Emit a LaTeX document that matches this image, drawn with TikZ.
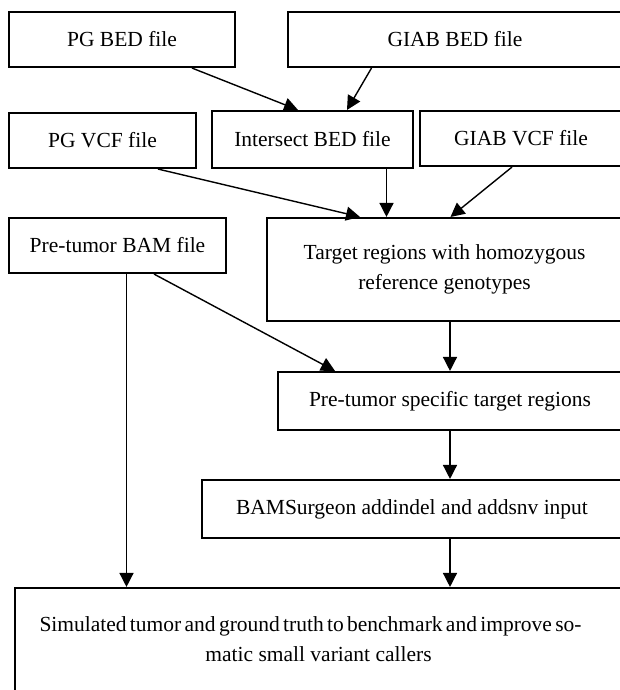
\documentclass[tikz,border=0pt]{standalone}
\usepackage{fontspec}
\setmainfont{Liberation Serif}
\usepackage{tikz}
\usetikzlibrary{arrows.meta}
\usetikzlibrary{positioning, shapes}

\begin{document}
\begin{tikzpicture}[x=1pt, y=-1pt,
    box/.style={rectangle, draw, line width=2.1pt, minimum height=55pt,
        inner sep=0pt, align=center, font=\fontsize{21.5}{30}\selectfont},
    flow/.style={-{Triangle[length=14pt,width=14pt]}, line width=1.4pt}]
  \useasboundingbox (0,0) rectangle (619,690);
  \coordinate (pgb) at (122,39.5);
  \coordinate (gib) at (455,39.5);
  \coordinate (pgv) at (102.5,140.5);
  \coordinate (isb) at (312.5,139.5);
  \coordinate (giv) at (521,138.5);
  \coordinate (bam) at (117.5,245.5);
  \coordinate (tgt) at (444.5,269.5);
  \coordinate (spc) at (450,401);
  \coordinate (srg) at (412,509);
  \coordinate (sim) at (318.5,639.5);

    \node[box, minimum width=226pt] (pgbed) at (pgb) {PG BED file};
    \node[box, minimum width=334pt] (giabbed) at (gib) {GIAB BED file};
    \node[box, minimum width=187pt] (pgvcf) at (pgv) {PG VCF file};
    \node[box, minimum width=201pt, minimum height=57pt] (intersect) at (isb) {Intersect BED file};
    \node[box, minimum width=202pt] (giabvcf) at (giv) {GIAB VCF file};
    \node[box, minimum width=217pt] (pretumor) at (bam) {Pre-tumor BAM file};
    \node[box, minimum width=355pt, minimum height=103pt] (target) at (tgt)
        {Target regions with homozygous\\reference genotypes};
    \node[box, minimum width=344pt, minimum height=58pt] (specific) at (spc)
        {Pre-tumor specific target regions};
    \node[box, minimum width=420pt, minimum height=58pt] (surgeon) at (srg)
        {BAMSurgeon addindel and addsnv input};
    \node[box, minimum width=607pt, minimum height=103pt] (simulated) at (sim)
        {\hspace*{-16pt}{\spaceskip=0.12em plus 1em\relax
          \makebox[542pt][s]{Simulated tumor and ground truth to benchmark and improve so-}}\\
         matic small variant callers};

  \path[flow, draw] ([xshift=70pt]pgbed.south) -- ([xshift=-14.5pt]intersect.north);
  \path[flow, draw] ([xshift=-83.5pt]giabbed.south) -- ([xshift=34.5pt]intersect.north);
  \path[flow, draw] ([xshift=55.5pt]pgvcf.south) -- ([xshift=-84.5pt]target.north);
  \path[flow, draw] ([xshift=74pt]intersect.south) -- ([xshift=-58pt]target.north);
  \path[flow, draw] ([xshift=-9pt]giabvcf.south) -- ([xshift=6pt]target.north);
  \path[flow, draw] ([xshift=36.5pt]pretumor.south) -- ([xshift=-115pt]specific.north);
  \path[flow, draw] ([xshift=5.5pt]target.south) -- (specific.north);
  \path[flow, draw] ([xshift=9pt]pretumor.south) -- ([xshift=-192pt]simulated.north);
  \path[flow, draw] (specific.south) -- ([xshift=38pt]surgeon.north);
  \path[flow, draw] ([xshift=38pt]surgeon.south) -- ([xshift=131.5pt]simulated.north);
\end{tikzpicture}
\end{document}
